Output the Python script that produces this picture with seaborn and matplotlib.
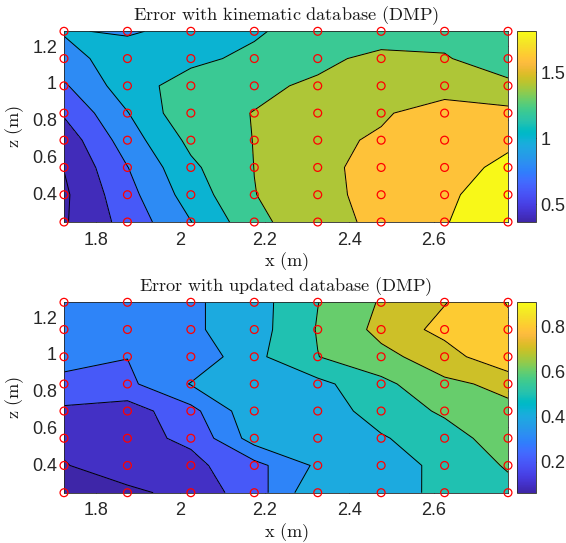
import numpy as np
import matplotlib
matplotlib.use("Agg")
import matplotlib.pyplot as plt
from matplotlib.colors import LinearSegmentedColormap, Normalize
from matplotlib.cm import ScalarMappable
from matplotlib.ticker import FormatStrFormatter
import seaborn as sns

# Measurement grid (m)
x_pos = [1.725, 1.875, 2.025, 2.175, 2.325, 2.475, 2.625, 2.775]
z_pos = [0.245, 0.393, 0.541, 0.689, 0.836, 0.984, 1.132, 1.280]

# Error maps: one row per z (bottom to top), one column per x (left to right)
err_kinematic = [
    [0.379, 0.673, 0.995, 1.331, 1.569, 1.619, 1.799, 1.812],
    [0.366, 0.732, 1.090, 1.396, 1.500, 1.713, 1.796, 1.812],
    [0.405, 0.795, 1.160, 1.402, 1.560, 1.655, 1.790, 1.806],
    [0.480, 0.900, 1.250, 1.405, 1.561, 1.620, 1.720, 1.795],
    [0.623, 0.992, 1.360, 1.403, 1.550, 1.580, 1.680, 1.650],
    [0.775, 1.108, 1.292, 1.375, 1.420, 1.500, 1.520, 1.458],
    [0.930, 1.101, 1.150, 1.250, 1.370, 1.434, 1.420, 1.258],
    [1.015, 0.978, 1.059, 1.170, 1.313, 1.330, 1.320, 1.280],
]
err_updated = [
    [0.064, 0.070, 0.144, 0.248, 0.486, 0.447, 0.530, 0.579],
    [0.092, 0.177, 0.174, 0.267, 0.418, 0.411, 0.550, 0.607],
    [0.130, 0.170, 0.218, 0.445, 0.460, 0.490, 0.560, 0.649],
    [0.190, 0.152, 0.269, 0.473, 0.441, 0.546, 0.614, 0.682],
    [0.240, 0.278, 0.405, 0.440, 0.473, 0.572, 0.683, 0.720],
    [0.376, 0.302, 0.321, 0.476, 0.598, 0.673, 0.750, 0.895],
    [0.360, 0.350, 0.383, 0.457, 0.606, 0.728, 0.834, 0.880],
    [0.360, 0.350, 0.383, 0.457, 0.598, 0.709, 0.795, 0.905],
]

levels_kinematic = [0.4, 0.6, 0.8, 1.0, 1.2, 1.4, 1.6, 1.8]
levels_updated = [0.1, 0.2, 0.3, 0.4, 0.5, 0.6, 0.7, 0.8, 0.9]

titles = ["Error with kinematic database (DMP)", "Error with updated database (DMP)"]
x_ticks = [1.8, 2.0, 2.2, 2.4, 2.6]
z_ticks = [0.4, 0.6, 0.8, 1.0, 1.2]
cbar_ticks_kinematic = [0.5, 1.0, 1.5]
cbar_ticks_updated = [0.2, 0.4, 0.6, 0.8]

# Parula colour table (64 entries)
parula_rgb = [
    (0.2422, 0.1504, 0.6603), (0.2504, 0.1650, 0.7076), (0.2578, 0.1818, 0.7511),
    (0.2647, 0.1978, 0.7952), (0.2706, 0.2147, 0.8364), (0.2751, 0.2342, 0.8710),
    (0.2783, 0.2559, 0.8991), (0.2803, 0.2782, 0.9221), (0.2813, 0.3006, 0.9414),
    (0.2810, 0.3228, 0.9579), (0.2795, 0.3447, 0.9717), (0.2760, 0.3667, 0.9829),
    (0.2699, 0.3892, 0.9906), (0.2602, 0.4123, 0.9952), (0.2440, 0.4358, 0.9988),
    (0.2206, 0.4603, 0.9973), (0.1963, 0.4847, 0.9892), (0.1834, 0.5074, 0.9798),
    (0.1786, 0.5289, 0.9682), (0.1764, 0.5499, 0.9520), (0.1687, 0.5703, 0.9359),
    (0.1540, 0.5902, 0.9218), (0.1460, 0.6091, 0.9079), (0.1380, 0.6276, 0.8973),
    (0.1248, 0.6459, 0.8883), (0.1113, 0.6635, 0.8763), (0.0952, 0.6798, 0.8598),
    (0.0689, 0.6948, 0.8394), (0.0297, 0.7082, 0.8163), (0.0036, 0.7203, 0.7917),
    (0.0067, 0.7312, 0.7660), (0.0433, 0.7411, 0.7394), (0.0964, 0.7500, 0.7120),
    (0.1408, 0.7584, 0.6842), (0.1717, 0.7670, 0.6554), (0.1938, 0.7758, 0.6251),
    (0.2161, 0.7843, 0.5923), (0.2470, 0.7918, 0.5567), (0.2906, 0.7973, 0.5188),
    (0.3406, 0.8008, 0.4789), (0.3909, 0.8029, 0.4354), (0.4456, 0.8024, 0.3909),
    (0.5044, 0.7993, 0.3480), (0.5616, 0.7942, 0.3045), (0.6174, 0.7876, 0.2612),
    (0.6720, 0.7793, 0.2227), (0.7242, 0.7698, 0.1910), (0.7738, 0.7598, 0.1646),
    (0.8203, 0.7498, 0.1535), (0.8634, 0.7406, 0.1596), (0.9035, 0.7330, 0.1774),
    (0.9393, 0.7288, 0.2100), (0.9728, 0.7298, 0.2394), (0.9956, 0.7434, 0.2371),
    (0.9970, 0.7659, 0.2199), (0.9952, 0.7893, 0.2028), (0.9892, 0.8136, 0.1885),
    (0.9786, 0.8386, 0.1766), (0.9676, 0.8639, 0.1643), (0.9610, 0.8890, 0.1537),
    (0.9597, 0.9135, 0.1423), (0.9628, 0.9373, 0.1265), (0.9691, 0.9606, 0.1064),
    (0.9769, 0.9839, 0.0805),
]
parula = LinearSegmentedColormap.from_list("parula", parula_rgb, N=256)

sns.set_style("ticks", {"xtick.direction": "in", "ytick.direction": "in"})
plt.rcParams["font.family"] = ["Liberation Sans", "DejaVu Sans"]
plt.rcParams["mathtext.fontset"] = "cm"

fig = plt.figure(figsize=(5.66, 5.43), dpi=100)
W, H = 566.0, 543.0


def frac(x0, y0, x1, y1):
    return [x0 / W, 1 - y1 / H, (x1 - x0) / W, (y1 - y0) / H]


panels = [
    (err_kinematic, levels_kinematic, cbar_ticks_kinematic, 31.3, 222.0),
    (err_updated, levels_updated, cbar_ticks_updated, 302.3, 492.7),
]

X, Z = np.meshgrid(x_pos, z_pos)
pts_x = [x for z in z_pos for x in x_pos]
pts_z = [z for z in z_pos for x in x_pos]

TICK_FS = 13
LABEL_FS = 13.2
INK = "#262626"

for k, (data, levels, cticks, y0, y1) in enumerate(panels):
    E = np.array(data)
    vmin, vmax = E.min(), E.max()
    norm = Normalize(vmin=vmin, vmax=vmax)
    bounds = [vmin - 1e-6] + [l for l in levels if vmin < l < vmax] + [vmax + 1e-6]
    # each band takes the colour of its lower bound
    band_colors = [parula(norm(max(b, vmin))) for b in bounds[:-1]]

    ax = fig.add_axes(frac(64, y0, 508, y1))
    ax.contourf(X, Z, E, levels=bounds, colors=band_colors)
    ax.contour(X, Z, E, levels=bounds[1:-1], colors="black", linewidths=0.7)

    sns.scatterplot(x=pts_x, y=pts_z, ax=ax, marker="o", s=32,
                    facecolors="none", edgecolor="#ff0000", linewidth=0.9,
                    clip_on=False, zorder=5, legend=False)

    ax.set_xlim(x_pos[0], x_pos[-1])
    ax.set_ylim(z_pos[0], z_pos[-1])
    ax.set_xticks(x_ticks)
    ax.set_yticks(z_ticks)
    ax.xaxis.set_major_formatter(FormatStrFormatter("%g"))
    ax.yaxis.set_major_formatter(FormatStrFormatter("%g"))
    ax.tick_params(axis="both", which="major", direction="in", top=True, right=True,
                   length=4, width=0.6, labelsize=TICK_FS, colors=INK,
                   labelcolor=INK)
    ax.tick_params(axis="x", pad=7)
    ax.tick_params(axis="y", pad=5)
    for sp in ax.spines.values():
        sp.set_visible(True)
        sp.set_linewidth(0.6)
        sp.set_color(INK)

    ax.set_title(r"$\mathrm{" + titles[k].replace(" ", r"\ ") + "}$",
                 fontsize=LABEL_FS, pad=8, color="#1a1a1a")
    ax.set_xlabel(r"$\mathrm{x\ (m)}$", fontsize=LABEL_FS, labelpad=1, color="#1a1a1a")
    ax.set_ylabel(r"$\mathrm{z\ (m)}$", fontsize=LABEL_FS, labelpad=4, color="#1a1a1a")

    cax = fig.add_axes(frac(517, y0, 536, y1))
    sm = ScalarMappable(norm=norm, cmap=parula)
    cb = fig.colorbar(sm, cax=cax)
    cb.set_ticks(cticks)
    cb.ax.yaxis.set_major_formatter(FormatStrFormatter("%g"))
    cb.ax.tick_params(direction="in", length=4, width=0.6, labelsize=TICK_FS,
                      colors=INK, pad=3)
    cb.outline.set_linewidth(0.6)
    cb.outline.set_edgecolor(INK)

fig.savefig("out.png", dpi=100, facecolor="white")
